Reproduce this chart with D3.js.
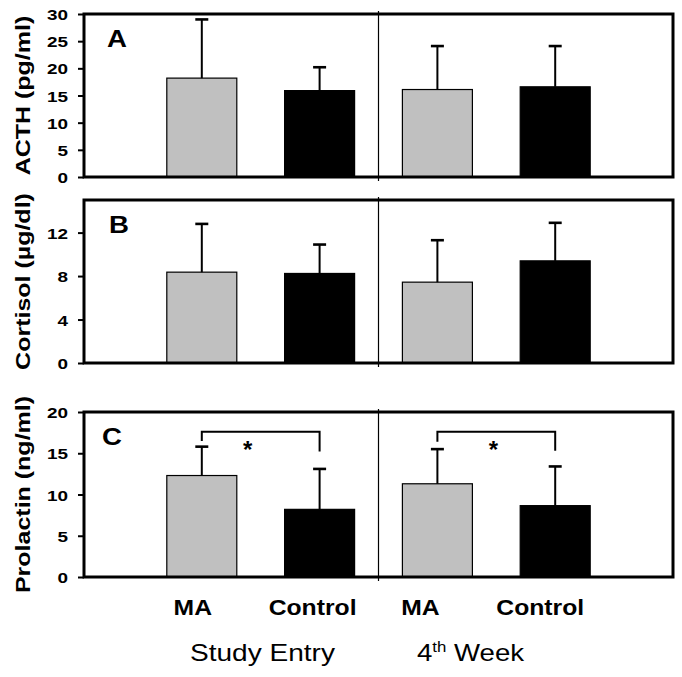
<!DOCTYPE html>
<html><head><meta charset="utf-8">
<script src="https://cdn.jsdelivr.net/npm/d3@7"></script>
<style>body{margin:0;background:#fff} svg{display:block}</style>
</head><body><svg id="c" width="682" height="677"></svg>
<script>
// ---- data ----
const categories = ["MA", "Control", "MA", "Control"];
const timepoints = ["Study Entry", "4th Week"];
const acthMean = [18.2, 15.9, 16.1, 16.6];
const acthSD = [10.8, 4.3, 8.0, 7.5];
const cortisolMean = [8.36, 8.24, 7.44, 9.4];
const cortisolSD = [4.44, 2.66, 3.86, 3.5];
const prolactinMean = [12.3, 8.2, 11.3, 8.65];
const prolactinSD = [3.5, 4.9, 4.2, 4.75];
const acthTicks = [0, 5, 10, 15, 20, 25, 30];
const cortisolTicks = [0, 4, 8, 12];
const prolactinTicks = [0, 5, 10, 15, 20];
const yMax = [30, 15, 20];
const panelLetters = ["A", "B", "C"];
const yTitles = ["ACTH (pg/ml)", "Cortisol (\u00b5g/dl)", "Prolactin (ng/ml)"];
const sigPairs = [[0, 1], [2, 3]];
const sigTop = [17.6, 17.6];
const sigLegEnd = [[16.5, 15.2], [16.4, 15.3]];

// ---- layout / style ----
const FONT = "'Liberation Sans', Arial, sans-serif";
const L = 84, R = 673;
const panelBox = [{top: 14, bottom: 177}, {top: 200, bottom: 363}, {top: 412, bottom: 577}];
const letterX = [107, 109, 102];
const barW = 70;
const colors = ["#c0c0c0", "#000000", "#c0c0c0", "#000000"];
const labelShift = [-9, -7, -17, -15];
const starShift = [-13, -3];

const svg = d3.select("#c");
const x = d3.scalePoint().domain(d3.range(categories.length)).range([L, R]).padding(1);

const means = [acthMean, cortisolMean, prolactinMean];
const sds = [acthSD, cortisolSD, prolactinSD];
const ticks = [acthTicks, cortisolTicks, prolactinTicks];

function stretchedText(g, tx, ty, rot, sx, txt, size, weight, anchor) {
  return g.append("text")
    .attr("transform", `translate(${tx},${ty}) rotate(${rot}) scale(${sx},1)`)
    .attr("font-family", FONT).attr("font-size", size).attr("font-weight", weight)
    .attr("text-anchor", anchor).attr("fill", "#000").text(txt);
}

panelBox.forEach((pb, p) => {
  const y = d3.scaleLinear().domain([0, yMax[p]]).range([pb.bottom, pb.top]);
  const g = svg.append("g");
  const rows = categories.map((c, i) => ({i, m: means[p][i], s: sds[p][i]}));

  // bars
  g.selectAll("rect.bar").data(rows).join("rect")
    .attr("x", d => x(d.i) - barW / 2).attr("width", barW)
    .attr("y", d => y(d.m)).attr("height", d => y(0) - y(d.m))
    .attr("fill", d => colors[d.i]).attr("stroke", "#000").attr("stroke-width", 1.2);

  // error bars
  g.selectAll("line.err").data(rows).join("line")
    .attr("x1", d => x(d.i)).attr("x2", d => x(d.i))
    .attr("y1", d => y(d.m)).attr("y2", d => y(d.m + d.s))
    .attr("stroke", "#000").attr("stroke-width", 2);
  g.selectAll("line.cap").data(rows).join("line")
    .attr("x1", d => x(d.i) - 6.5).attr("x2", d => x(d.i) + 6.5)
    .attr("y1", d => y(d.m + d.s)).attr("y2", d => y(d.m + d.s))
    .attr("stroke", "#000").attr("stroke-width", 2.6);

  // divider
  const midX = (x(1) + x(2)) / 2;
  g.append("line").attr("x1", midX).attr("x2", midX)
    .attr("y1", pb.top - 3).attr("y2", pb.bottom + 4)
    .attr("stroke", "#000").attr("stroke-width", 1.2);

  // frame
  g.append("rect").attr("x", L).attr("y", pb.top).attr("width", R - L).attr("height", pb.bottom - pb.top)
    .attr("fill", "none").attr("stroke", "#000").attr("stroke-width", 3);

  // axis
  const ax = g.append("g").attr("transform", `translate(${L},0)`)
    .call(d3.axisLeft(y).tickValues(ticks[p]).tickSize(6).tickFormat(d3.format("d")));
  ax.select(".domain").remove();
  ax.selectAll(".tick line").attr("stroke", "#000").attr("stroke-width", 2);
  ax.selectAll(".tick text").attr("x", null).attr("dy", "0.36em")
    .attr("transform", "translate(-16,0) scale(1.22,1)")
    .attr("font-family", FONT).attr("font-size", 15.5).attr("font-weight", "bold")
    .attr("fill", "#000");

  // panel letter
  stretchedText(g, letterX[p], pb.top + 33, 0, 1.2, panelLetters[p], 23, "bold", "start");

  // y title
  stretchedText(g, 29.5, (pb.top + pb.bottom) / 2, -90, 1.25, yTitles[p], 20, "bold", "middle");

  // significance brackets (panel C)
  if (p === 2) {
    sigPairs.forEach((pair, k) => {
      const xa = x(pair[0]), xb = x(pair[1]);
      const path = d3.path();
      path.moveTo(xa, y(sigLegEnd[k][0]));
      path.lineTo(xa, y(sigTop[k]));
      path.lineTo(xb, y(sigTop[k]));
      path.lineTo(xb, y(sigLegEnd[k][1]));
      g.append("path").attr("d", path.toString()).attr("fill", "none")
        .attr("stroke", "#000").attr("stroke-width", 2);
      g.append("text").attr("x", (xa + xb) / 2 + starShift[k]).attr("y", y(sigTop[k]) + 26)
        .attr("font-family", FONT).attr("font-size", 24).attr("font-weight", "bold")
        .attr("text-anchor", "middle").text("*");
    });
  }
});

// category labels
categories.forEach((c, i) => {
  stretchedText(svg, x(i) + labelShift[i], 615, 0, 1.15, c, 21.5, "bold", "middle");
});

// timepoint labels
stretchedText(svg, 190, 661, 0, 1.22, timepoints[0], 23, "normal", "start");
const tw = svg.append("text")
  .attr("transform", "translate(417,661) scale(1.2,1)")
  .attr("font-family", FONT).attr("font-size", 23).attr("fill", "#000");
const parts = timepoints[1].match(/^(\d+)(th)(.*)$/);
tw.append("tspan").text(parts[1]);
tw.append("tspan").attr("font-size", 14).attr("dy", -9).text(parts[2]);
tw.append("tspan").attr("dy", 9).text(parts[3]);
</script></body></html>
